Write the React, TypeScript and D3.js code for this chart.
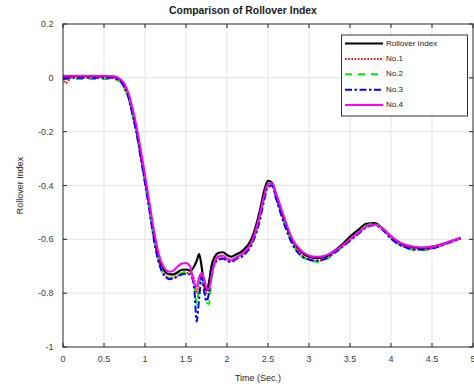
import React from "react";
import * as d3 from "d3";

const times = [0, 0.03, 0.1, 0.2, 0.3, 0.4, 0.5, 0.6, 0.65, 0.7, 0.75, 0.8, 0.85, 0.9, 0.95, 1.0, 1.05, 1.1, 1.15, 1.2, 1.25, 1.3, 1.35, 1.4, 1.45, 1.5, 1.55, 1.6, 1.63, 1.66, 1.69, 1.72, 1.75, 1.78, 1.81, 1.85, 1.9, 1.95, 2.0, 2.05, 2.1, 2.2, 2.3, 2.4, 2.45, 2.5, 2.55, 2.6, 2.7, 2.8, 2.9, 3.0, 3.1, 3.2, 3.3, 3.4, 3.5, 3.6, 3.7, 3.8, 3.9, 4.0, 4.1, 4.2, 4.3, 4.4, 4.5, 4.6, 4.7, 4.85];

const rolloverIndex = [0.005, 0.006, 0.006, 0.006, 0.006, 0.006, 0.006, 0.004, 0.0, -0.01, -0.03, -0.07, -0.13, -0.2, -0.29, -0.38, -0.47, -0.57, -0.65, -0.7, -0.722, -0.73, -0.73, -0.722, -0.713, -0.712, -0.716, -0.7, -0.68, -0.655, -0.7, -0.77, -0.79, -0.76, -0.7, -0.665, -0.65, -0.648, -0.658, -0.665, -0.658, -0.64, -0.598, -0.495, -0.423, -0.383, -0.39, -0.44, -0.53, -0.605, -0.645, -0.665, -0.67, -0.665, -0.645, -0.62, -0.59, -0.565, -0.542, -0.54, -0.56, -0.59, -0.612, -0.625, -0.63, -0.632, -0.628, -0.62, -0.61, -0.595];

const no1 = [0.012, -0.02, 0.0, 0.002, 0.002, 0.002, 0.002, 0.002, -0.002, -0.012, -0.04, -0.075, -0.14, -0.205, -0.295, -0.385, -0.48, -0.578, -0.66, -0.71, -0.735, -0.745, -0.742, -0.735, -0.728, -0.725, -0.725, -0.75, -0.8, -0.76, -0.73, -0.77, -0.8, -0.79, -0.74, -0.685, -0.668, -0.665, -0.675, -0.68, -0.67, -0.652, -0.612, -0.515, -0.445, -0.397, -0.393, -0.442, -0.537, -0.612, -0.655, -0.674, -0.68, -0.672, -0.652, -0.628, -0.6, -0.574, -0.55, -0.543, -0.56, -0.594, -0.618, -0.631, -0.638, -0.638, -0.633, -0.624, -0.612, -0.597];

const no2 = [-0.005, -0.005, -0.004, -0.004, -0.004, -0.004, -0.004, -0.004, -0.007, -0.015, -0.035, -0.075, -0.14, -0.21, -0.3, -0.39, -0.485, -0.58, -0.66, -0.71, -0.735, -0.743, -0.74, -0.733, -0.725, -0.72, -0.72, -0.76, -0.84, -0.77, -0.73, -0.78, -0.835, -0.84, -0.75, -0.69, -0.672, -0.668, -0.677, -0.682, -0.672, -0.655, -0.615, -0.52, -0.45, -0.4, -0.395, -0.445, -0.54, -0.615, -0.66, -0.678, -0.683, -0.675, -0.655, -0.63, -0.602, -0.575, -0.55, -0.542, -0.56, -0.595, -0.62, -0.633, -0.64, -0.64, -0.635, -0.625, -0.613, -0.597];

const no3 = [-0.005, -0.003, 0.0, 0.0, 0.0, 0.0, 0.0, 0.0, -0.004, -0.013, -0.035, -0.075, -0.14, -0.21, -0.3, -0.39, -0.485, -0.585, -0.665, -0.715, -0.74, -0.748, -0.745, -0.738, -0.73, -0.728, -0.73, -0.78, -0.905, -0.82, -0.74, -0.79, -0.83, -0.8, -0.73, -0.69, -0.675, -0.672, -0.68, -0.685, -0.675, -0.66, -0.62, -0.53, -0.46, -0.405, -0.4, -0.45, -0.545, -0.62, -0.66, -0.675, -0.68, -0.672, -0.652, -0.63, -0.605, -0.58, -0.555, -0.548, -0.565, -0.598, -0.62, -0.632, -0.638, -0.638, -0.633, -0.625, -0.613, -0.598];

const no4 = [0.008, 0.008, 0.008, 0.008, 0.008, 0.008, 0.008, 0.007, 0.004, -0.005, -0.022, -0.058, -0.115, -0.185, -0.27, -0.36, -0.455, -0.55, -0.63, -0.685, -0.712, -0.72, -0.715, -0.7, -0.69, -0.688, -0.7, -0.765, -0.775, -0.74, -0.725, -0.745, -0.78, -0.785, -0.74, -0.685, -0.662, -0.66, -0.672, -0.677, -0.67, -0.65, -0.61, -0.51, -0.44, -0.395, -0.392, -0.43, -0.52, -0.6, -0.64, -0.66, -0.665, -0.66, -0.645, -0.625, -0.6, -0.575, -0.553, -0.545, -0.56, -0.588, -0.61, -0.622, -0.628, -0.63, -0.627, -0.62, -0.61, -0.593];

const seriesNames = ["Rollover Index", "No.1", "No.2", "No.3", "No.4"];
const seriesValues = [rolloverIndex, no1, no2, no3, no4];
const seriesColors = ["#000000", "#ff0000", "#00ee00", "#0000ff", "#ff00ff"];
const seriesDash = ["none", "1.6,1.6", "7,6", "7,2.5,2.5,2.5", "none"];
const seriesWidth = [2.2, 2, 2, 2, 2];

const xTicks = [0, 0.5, 1, 1.5, 2, 2.5, 3, 3.5, 4, 4.5, 5];
const yTicks = [0.2, 0, -0.2, -0.4, -0.6, -0.8, -1];

const W = 474;
const H = 389;
const L = 63;
const R = 473;
const T = 24;
const B = 347;
const FONT = "'Liberation Sans', Arial, sans-serif";

export default function App() {
  const x = d3.scaleLinear().domain([0, 5]).range([L, R]);
  const y = d3.scaleLinear().domain([-1, 0.2]).range([B, T]);
  const line = d3
    .line<number>()
    .x((_, i) => x(times[i]))
    .y((v) => y(v))
    .curve(d3.curveMonotoneX);

  const fmt = (v: number) => (Math.abs(v) < 1e-9 ? "0" : String(+v.toFixed(1)));

  const legX = 341.5;
  const legY = 35;
  const legW = 126;
  const legH = 81;

  return (
    <svg
      width={W}
      height={H}
      style={{ position: "absolute", left: 0, top: 0, background: "#fff" }}
      fontFamily={FONT}
    >
      <rect x={0} y={0} width={W} height={H} fill="#fff" />
      {xTicks.slice(1, -1).map((t) => (
        <line key={"gx" + t} x1={x(t)} x2={x(t)} y1={T} y2={B} stroke="#e3e3e3" strokeWidth={1} />
      ))}
      {yTicks.slice(1, -1).map((t) => (
        <line key={"gy" + t} x1={L} x2={R} y1={y(t)} y2={y(t)} stroke="#e3e3e3" strokeWidth={1} />
      ))}
      <defs>
        <clipPath id="plotclip">
          <rect x={L} y={T} width={R - L} height={B - T} />
        </clipPath>
      </defs>
      <g clipPath="url(#plotclip)">
        {seriesValues.map((vals, i) => (
          <path
            key={seriesNames[i]}
            d={line(vals) || ""}
            fill="none"
            stroke={seriesColors[i]}
            strokeWidth={seriesWidth[i]}
            strokeDasharray={seriesDash[i]}
            strokeLinejoin="round"
          />
        ))}
      </g>
      <rect x={L} y={T} width={R - L} height={B - T} fill="none" stroke="#262626" strokeWidth={1} />
      {xTicks.map((t) => (
        <g key={"xt" + t}>
          <line x1={x(t)} x2={x(t)} y1={B} y2={B - 4} stroke="#262626" />
          <line x1={x(t)} x2={x(t)} y1={T} y2={T + 4} stroke="#262626" />
          <text x={x(t)} y={362} fontSize={9} fill="#404040" textAnchor="middle">
            {fmt(t)}
          </text>
        </g>
      ))}
      {yTicks.map((t) => (
        <g key={"yt" + t}>
          <line x1={L} x2={L + 4} y1={y(t)} y2={y(t)} stroke="#262626" />
          <line x1={R} x2={R - 4} y1={y(t)} y2={y(t)} stroke="#262626" />
          <text x={53.5} y={y(t) + 3} fontSize={9} fill="#404040" textAnchor="end">
            {fmt(t)}
          </text>
        </g>
      ))}
      <text x={243} y={14} fontSize={10.4} fontWeight="bold" textAnchor="middle" fill="#1a1a1a">
        Comparison of Rollover Index
      </text>
      <text x={258} y={381} fontSize={9} textAnchor="middle" fill="#262626">
        Time (Sec.)
      </text>
      <text
        transform={`translate(23,${(T + B) / 2}) rotate(-90)`}
        fontSize={9}
        textAnchor="middle"
        fill="#262626"
      >
        Rollover Index
      </text>
      <rect x={legX} y={legY} width={legW} height={legH} fill="#fff" stroke="#333" strokeWidth={1} />
      {seriesNames.map((n, i) => {
        const cy = 43.5 + i * 15.4;
        return (
          <g key={"lg" + n}>
            <line
              x1={345}
              x2={383}
              y1={cy}
              y2={cy}
              stroke={seriesColors[i]}
              strokeWidth={seriesWidth[i]}
              strokeDasharray={seriesDash[i]}
            />
            <text x={386} y={cy + 2} fontSize={8} fill="#1a1a1a">
              {n}
            </text>
          </g>
        );
      })}
    </svg>
  );
}
